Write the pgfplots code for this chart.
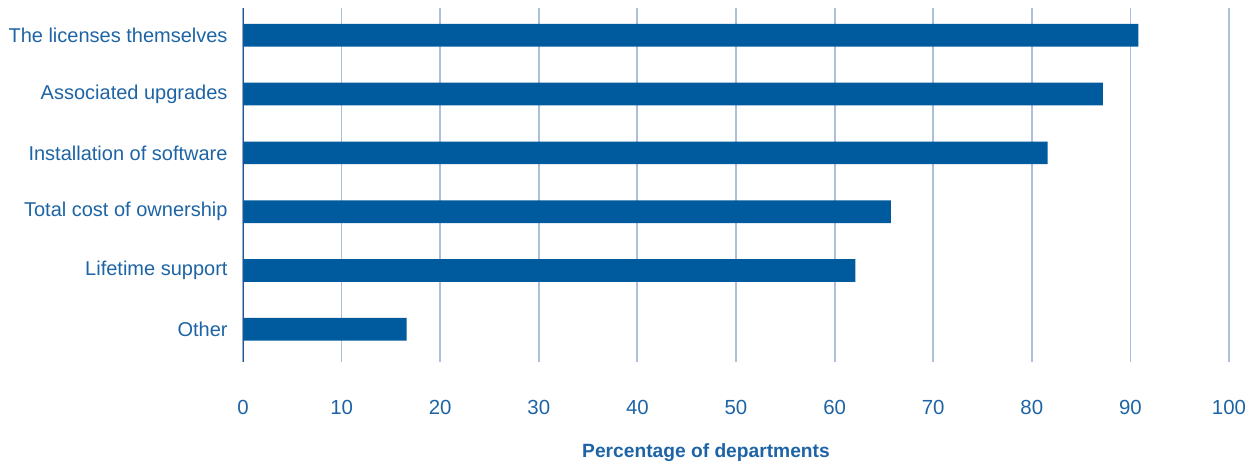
\documentclass[border=0pt]{standalone}
\usepackage{fontspec}
\setmainfont{Liberation Sans}
\usepackage{pgfplots}
\pgfplotsset{compat=1.18}
\definecolor{barblue}{RGB}{0,90,158}
\definecolor{txtblue}{RGB}{30,100,165}
\definecolor{gridblue}{RGB}{172,192,220}
\definecolor{axisblue}{RGB}{30,85,145}
\begin{document}
\begin{tikzpicture}
\useasboundingbox (-121.5pt,-51.5pt) rectangle (505.5pt,181pt);
\begin{axis}[
  at={(0,0)}, anchor=south west,
  width=493pt, height=177pt, scale only axis,
  xmin=0, xmax=100, ymin=-0.556, ymax=5.464,
  xtick={0,10,...,100},
  ytick={0,1,2,3,4,5},
  yticklabels={Other,Lifetime support,Total cost of ownership,Installation of software,Associated upgrades,The licenses themselves},
  xmajorgrids,
  grid style={gridblue, line width=0.9pt},
  major tick length=0pt,
  axis x line*=none,
  axis line style={draw=none},
  tick style={draw=none},
  font=\fontsize{10}{12}\selectfont,
  xticklabel style={anchor=center, yshift=-22.8pt, text=txtblue, font=\fontsize{10.2}{12}\selectfont},
  yticklabel style={text=txtblue, xshift=-4.2pt},
  xlabel={\textbf{Percentage of departments}},
  xlabel style={at={(axis description cs:0.5,0)}, anchor=center, yshift=-45.5pt, xshift=-15pt, text=txtblue, font=\fontsize{9.6}{12}\selectfont},
  /pgf/number format/assume math mode=true,
]
\addplot[xbar, bar width=0.386, fill=barblue, draw=none] coordinates {
  (16.6,0) (62.1,1) (65.7,2) (81.6,3) (87.2,4) (90.8,5)
};
\draw[axisblue, line width=1pt] (axis cs:0,-0.556) -- (axis cs:0,5.464);
\end{axis}
\end{tikzpicture}
\end{document}
